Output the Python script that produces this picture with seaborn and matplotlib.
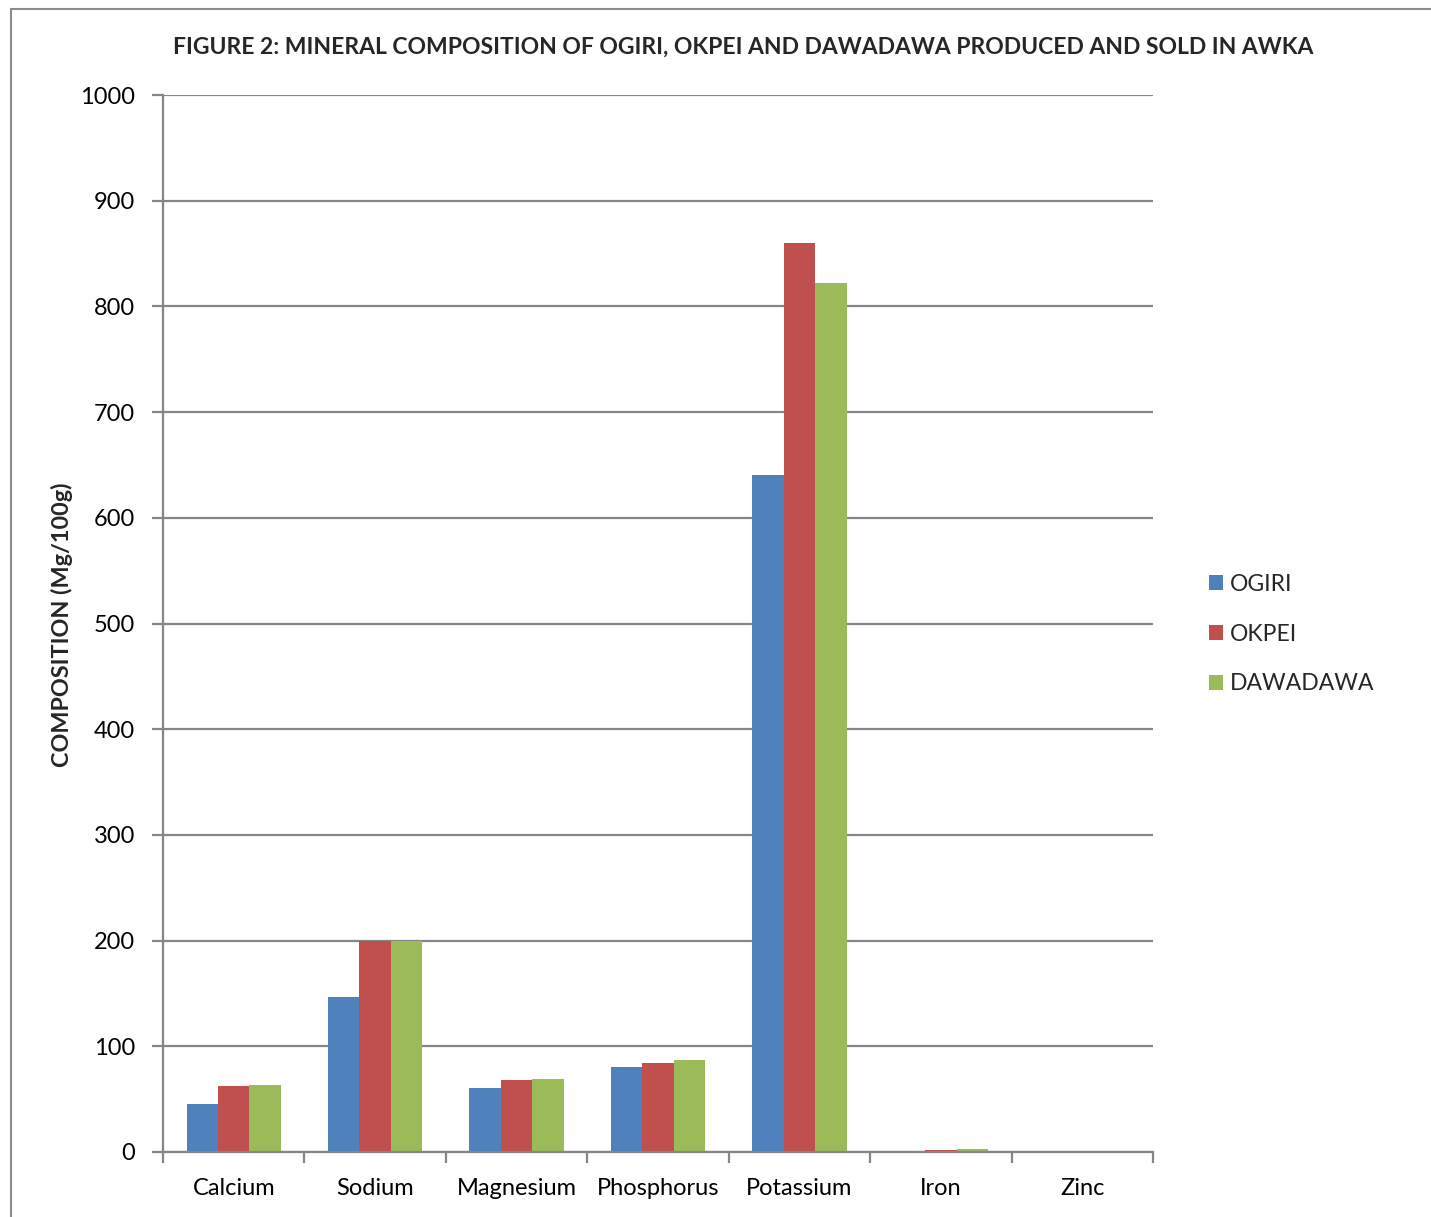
import matplotlib
matplotlib.use("Agg")
import matplotlib.pyplot as plt
import seaborn as sns
import pandas as pd
from matplotlib.patches import Rectangle

# Mineral composition (mg/100g) of three fermented condiments
minerals = ["Calcium", "Sodium", "Magnesium", "Phosphorus", "Potassium", "Iron", "Zinc"]
ogiri = [45.3, 146.9, 60.1, 80.0, 640.6, 1.3, 0.4]
okpei = [62.4, 200.0, 68.3, 84.5, 860.0, 2.0, 0.5]
dawadawa = [63.3, 200.0, 69.3, 87.0, 822.0, 2.5, 0.5]
products = ["OGIRI", "OKPEI", "DAWADAWA"]
colors = ["#4F81BD", "#C0504D", "#9BBB59"]
y_ticks = list(range(0, 1001, 100))

df = pd.DataFrame({"Mineral": minerals, "OGIRI": ogiri, "OKPEI": okpei, "DAWADAWA": dawadawa})
df = df.melt(id_vars="Mineral", value_vars=products, var_name="Product", value_name="Value")

sns.set_theme(style="white")
plt.rcParams["font.family"] = ["Lato", "DejaVu Sans"]

W, H = 1431, 1217
fig = plt.figure(figsize=(W / 100, H / 100), dpi=100)
ax = fig.add_axes([163 / W, 1 - 1152 / H, 990 / W, 1057 / H])

sns.barplot(data=df, x="Mineral", y="Value", hue="Product", hue_order=products,
            palette=colors, width=0.667, saturation=1, ax=ax, legend=True,
            edgecolor="none", linewidth=0)

grid_c = "#868686"
ax.set_xlim(-0.5, len(minerals) - 0.5)
ax.set_ylim(0, 1000)
ax.set_yticks(y_ticks)
ax.set_yticklabels([str(v) for v in y_ticks])
ax.yaxis.grid(True, color=grid_c, linewidth=1.6)
ax.xaxis.grid(False)
ax.set_axisbelow(True)
for s in ["top", "right"]:
    ax.spines[s].set_visible(False)
for s in ["left", "bottom"]:
    ax.spines[s].set_color(grid_c)
    ax.spines[s].set_linewidth(1.6)

ax.tick_params(axis="y", which="major", direction="out", length=8, width=1.6,
               color=grid_c, pad=12, labelsize=17, labelcolor="black", left=True)
ax.set_xticks([i - 0.5 for i in range(len(minerals) + 1)], minor=True)
ax.tick_params(axis="x", which="minor", direction="out", length=8, width=1.6,
               color=grid_c, bottom=True)
ax.tick_params(axis="x", which="major", length=0, pad=19, labelsize=17, labelcolor="black")
ax.set_xlabel("")
ax.set_ylabel("")

leg = ax.legend(loc="center left", bbox_to_anchor=(1209 / W, 1 - 634 / H),
                bbox_transform=fig.transFigure, frameon=False, fontsize=16.5,
                handlelength=0.62, handleheight=0.62, handletextpad=0.3,
                labelspacing=1.25, borderpad=0, borderaxespad=0)

fig.text(743 / W, 1 - 47 / H,
         "FIGURE 2: MINERAL COMPOSITION OF OGIRI, OKPEI AND DAWADAWA PRODUCED AND SOLD IN AWKA",
         ha="center", va="center", fontsize=16.5, fontweight="bold")
fig.text(62 / W, 1 - 625 / H, "COMPOSITION (Mg/100g)", rotation=90,
         ha="center", va="center", fontsize=16.8, fontweight="bold")

fig.add_artist(Rectangle((11 / W, -0.1), 1.2, 1.1 - 9 / H, transform=fig.transFigure,
                         fill=False, edgecolor="#8c8c8c", linewidth=1.5))

fig.savefig("out.png", dpi=100)
